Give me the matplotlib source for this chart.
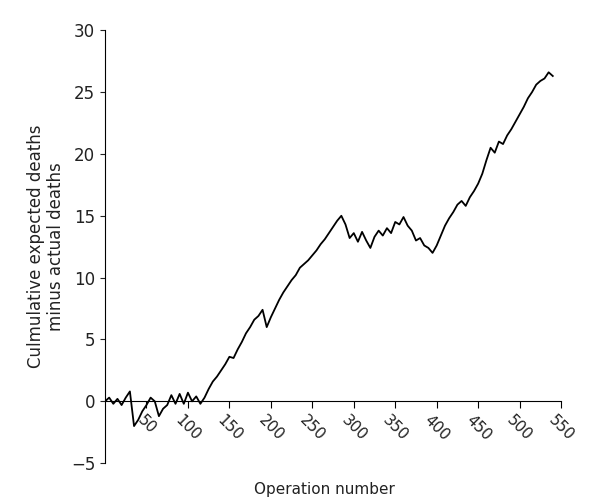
import matplotlib
matplotlib.use("Agg")
import matplotlib.pyplot as plt

ops = list(range(0, 545, 5))
vals = [0.0,0.3,-0.2,0.2,-0.3,0.3,0.8,-2.0,-1.5,-0.8,-0.3,0.3,0.0,-1.2,-0.6,-0.3,0.5,-0.2,0.6,-0.2,0.7,0.0,0.4,-0.2,
        0.3,1.0,1.6,2.0,2.5,3.0,3.6,3.5,4.2,4.8,5.5,6.0,6.6,6.9,7.4,6.0,6.8,7.5,8.2,8.8,9.3,9.8,10.2,10.8,11.1,11.4,
        11.8,12.2,12.7,13.1,13.6,14.1,14.6,15.0,14.3,13.2,13.6,12.9,13.7,13.0,12.4,13.3,13.8,13.4,14.0,13.6,14.5,14.3,
        14.9,14.2,13.8,13.0,13.2,12.6,12.4,12.0,12.6,13.4,14.2,14.8,15.3,15.9,16.2,15.8,16.5,17.0,17.6,18.4,19.5,20.5,
        20.1,21.0,20.8,21.5,22.0,22.6,23.2,23.8,24.5,25.0,25.6,25.9,26.1,26.6,26.3]
xticks = [50,100,150,200,250,300,350,400,450,500,550]
yticks = [-5,0,5,10,15,20,25,30]

fig = plt.figure(figsize=(5.9,5.04), dpi=100)
ax = fig.add_axes([0.178,0.081,0.78,0.859])
ax.plot(ops, vals[:len(ops)], color='black', lw=1.3)
ax.set_xlim(0,555); ax.set_ylim(-5,30)
ax.spines['top'].set_visible(False); ax.spines['right'].set_visible(False)
ax.spines['bottom'].set_position(('data',0))
ax.spines['bottom'].set_bounds(0,550)
ax.set_xticks(xticks); ax.set_yticks(yticks)
ax.set_xticklabels([str(t) for t in xticks], rotation=-45, ha='center', va='top',
                   fontsize=11, color='#222')
ax.tick_params(axis='x', direction='out', length=5, pad=3)
ax.tick_params(axis='y', labelsize=12, colors='#222')
ax.set_ylabel("Culmulative expected deaths\nminus actual deaths", fontsize=12, color='#222')
fig.text(0.55, 0.02, "Operation number", ha='center', fontsize=11, color='#222')
fig.savefig("out.png")
